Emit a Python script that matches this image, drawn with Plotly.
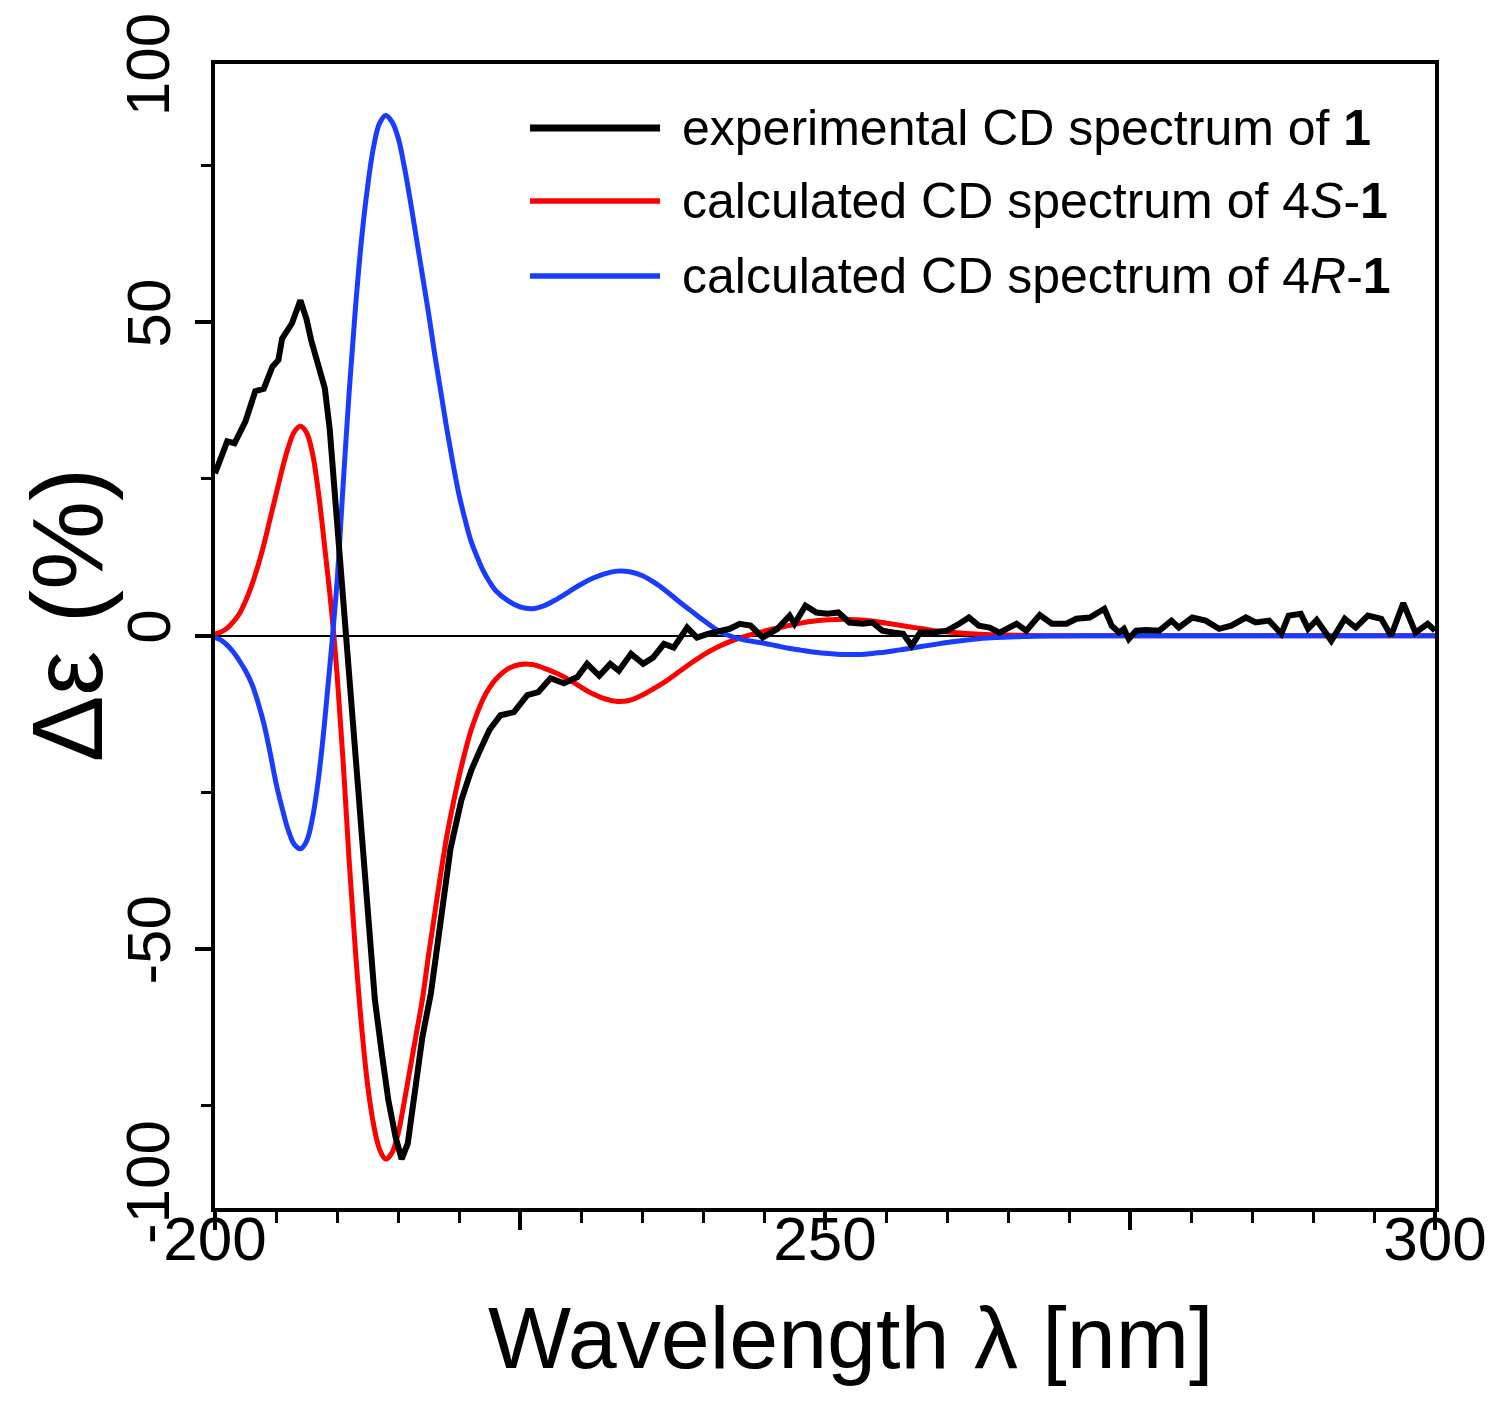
import plotly.graph_objects as go

# experimental CD spectrum of 1 (noisy)
wl_exp = [200, 200.5, 201, 201.6, 202.5, 203.3, 204, 204.7, 205.2, 205.5, 206.3, 207, 207.5,
          207.9, 208.5, 209, 209.4, 209.8, 210.2, 210.8, 211.8, 212.5, 213.1, 213.7, 214.2,
          214.8, 215.3, 215.8, 216.3, 217, 217.7, 218.5, 219.3, 220.2, 221, 221.6, 222.5,
          223.4, 224.5, 225.6, 226.5, 227.5, 228.6, 229.7, 230.5, 231.5, 232.4, 233.1, 234.1,
          235.1, 235.9, 236.8, 237.6, 238.7, 239.5, 240.4, 241.4, 242.2, 243, 243.9, 244.9,
          246.1, 247.1, 247.5, 248.4, 249.3, 250.2, 251.1, 252, 253.1, 253.9, 254.7, 255.6,
          256.4, 257.1, 257.8, 258.8, 260, 261, 261.8, 262.6, 263.5, 264.3, 265.7, 266.5,
          267.6, 268.6, 269.8, 270.6, 271.7, 272.9, 273.5, 274.1, 274.5, 274.9, 275.5, 276.3,
          277.4, 278.4, 279, 280.1, 281.2, 282.3, 283.3, 284.5, 285.3, 286.4, 287.4, 288, 289,
          289.6, 290.3, 291.5, 292.6, 293.5, 294.5, 295.6, 296.4, 297.4, 298.4, 299.4, 300]
cd_exp = [25.9, 28.5, 31, 30.7, 34.2, 39, 39.4, 42.9, 44, 47.4, 49.8, 53.5, 50.5,
          47, 43, 39.5, 33, 23, 13, 0, -25, -43, -58, -67, -74,
          -80, -83.5, -81, -74, -64, -57, -45, -34, -26.2, -21.5, -18.8, -15,
          -12.7, -12.2, -9.5, -9, -6.8, -7.6, -6.6, -4.5, -6.4, -4.5, -5.6, -2.9,
          -4.5, -3.5, -1.3, -1.9, 1.3, -0.3, 0.3, 0.8, 1.1, 1.9, 1.6, -0.3,
          1.1, 3.2, 1.9, 4.8, 3.7, 3.5, 3.7, 2.1, 1.9, 2.1, 0.8, 0.5,
          0.3, -1.6, 0.5, 0.5, 0.8, 1.9, 2.9, 1.6, 1.3, 0.5, 1.9, 0.8,
          3.3, 1.9, 1.9, 2.7, 2.9, 4.3, 1.6, 0.5, 1.1, -0.5, 0.8, 0.9,
          0.8, 2.4, 1.3, 2.9, 2.4, 1.1, 1.6, 2.9, 2.1, 2.4, 0.3, 3.2, 3.5,
          1.1, 2.5, -0.8, 2.7, 1.3, 3.2, 2.7, 0, 5.2, 0.5, 1.9, 0.8]

# wavelength grid of the calculated spectra
wl_calc = [200, 200.5, 201, 201.5, 202, 202.5, 203, 203.5, 204, 204.5, 205, 205.5, 206, 206.5,
           207, 207.5, 208, 208.5, 209, 209.5, 210, 210.5, 211, 211.5, 212, 212.5, 213, 213.5,
           214, 214.5, 215, 215.5, 216, 216.5, 217, 217.5, 218, 218.5, 219, 219.5, 220, 220.5,
           221, 221.5, 222, 222.5, 223, 224, 225, 226, 227, 228, 229, 230, 231, 232, 233, 234,
           235, 236, 237, 238, 239, 240, 241, 242, 243, 244, 245, 246, 247, 248, 249, 250, 251,
           252, 253, 254, 255, 256, 257, 258, 259, 260, 262, 264, 266, 268, 272, 280, 290, 300]

# calculated CD spectrum of 4S-1
cd_4s = [0.3, 0.6, 1.2, 2.2, 3.5, 5.5, 8, 11, 14.5, 18.5, 22.5, 26.5, 30, 32.5,
         33.4, 32.4, 29, 22.5, 14, 5, -6, -20, -36, -50, -62, -71.5, -78, -82,
         -83.5, -82.5, -79.5, -74.5, -69, -63.5, -58, -51, -44.5, -38, -32, -27, -22.5, -18.5,
         -15, -12.3, -10, -8.3, -7, -5.3, -4.6, -4.6, -5.2, -6, -7, -8.2, -9.3, -10.1, -10.5, -10.3,
         -9.5, -8.4, -7.2, -5.8, -4.4, -3.1, -2, -1.1, -0.4, 0.2, 0.7, 1.2, 1.6, 2, 2.3, 2.5, 2.6,
         2.6, 2.5, 2.3, 2, 1.7, 1.4, 1.1, 0.8, 0.6, 0.3, 0.15, 0.05, 0, 0, 0, 0, 0]

# calculated CD spectrum of 4R-1
cd_4r = [-0.3, -0.7, -1.5, -2.6, -4, -5.6, -7.6, -10.5, -14, -18.5, -23.5, -27.5, -31, -33.3,
         -34, -32.8, -29, -22.5, -13.5, -3, 8.5, 24, 39, 52, 63, 71.5, 78, 81.8,
         83, 82, 79.5, 75, 69.5, 63.5, 57.5, 51.5, 45, 39, 33, 27.5, 22.5, 18.5,
         15, 12.5, 10.3, 8.6, 7.2, 5.6, 4.6, 4.3, 4.8, 5.8, 7, 8.2, 9.2, 9.9, 10.3, 10.2,
         9.6, 8.5, 7.1, 5.5, 4, 2.5, 1.1, 0.1, -0.5, -0.9, -1.2, -1.6, -2, -2.3, -2.6, -2.8, -2.95,
         -3, -3, -2.8, -2.6, -2.3, -2, -1.7, -1.4, -1.1, -0.6, -0.3, -0.15, -0.05, 0, 0, 0, 0]

legend_names = ["experimental CD spectrum of <b>1</b>",
                "calculated CD spectrum of 4<i>S</i>-<b>1</b>",
                "calculated CD spectrum of 4<i>R</i>-<b>1</b>"]
legend_colors = ["black", "#ff0000", "#1a3cff"]

FONT = "Liberation Sans, Arial, sans-serif"

fig = go.Figure()
fig.add_trace(go.Scatter(x=wl_calc, y=cd_4s, mode="lines", line=dict(color=legend_colors[1], width=5, shape="spline", smoothing=1)))
fig.add_trace(go.Scatter(x=wl_calc, y=cd_4r, mode="lines", line=dict(color=legend_colors[2], width=5, shape="spline", smoothing=1)))
fig.add_trace(go.Scatter(x=wl_exp, y=cd_exp, mode="lines", line=dict(color=legend_colors[0], width=6)))

# hand made legend (long line samples like the original)
leg_y = [0.9441, 0.8802, 0.8147]
leg_w = [7, 5.5, 5.5]
for i in range(3):
    fig.add_shape(type="line", xref="paper", yref="paper", x0=0.2582, x1=0.3648, y0=leg_y[i], y1=leg_y[i],
                  line=dict(color=legend_colors[i], width=leg_w[i]))
    fig.add_annotation(xref="paper", yref="paper", x=0.3811, y=leg_y[i], text=legend_names[i],
                       showarrow=False, xanchor="left", yanchor="middle",
                       font=dict(size=50, color="black", family=FONT))

# end labels of the y axis
fig.add_annotation(xref="paper", yref="paper", x=-0.0557, y=0.999, text="100", showarrow=False,
                   textangle=-90, xanchor="center", yanchor="middle", font=dict(size=62, color="black", family=FONT))
fig.add_annotation(xref="paper", yref="paper", x=-0.0557, y=0.0227, text="-100", showarrow=False,
                   textangle=-90, xanchor="center", yanchor="middle", font=dict(size=62, color="black", family=FONT))

# axis titles
fig.add_annotation(xref="paper", yref="paper", x=-0.121, y=0.5184, text="Δε (%)", showarrow=False,
                   textangle=-90, xanchor="center", yanchor="middle", font=dict(size=100, color="black", family=FONT))
fig.add_annotation(xref="paper", yref="paper", x=0.5205, y=-0.1136, text="Wavelength λ [nm]", showarrow=False,
                   xanchor="center", yanchor="middle", font=dict(size=88, color="black", family=FONT))

fig.update_layout(
    width=1500, height=1413,
    margin=dict(l=207, r=73, t=56, b=213),
    plot_bgcolor="white", paper_bgcolor="white",
    showlegend=False,
    font=dict(family=FONT, color="black"),
)
fig.update_xaxes(
    range=[200, 300], tickvals=[200, 225, 250, 275, 300], ticktext=["200", "", "250", "", "300"],
    ticks="outside", ticklen=18, tickwidth=4, tickcolor="black", ticklabelstandoff=-44,
    minor=dict(ticks="outside", ticklen=11, tickwidth=3, tickcolor="black", tick0=200, dtick=5),
    showline=True, linewidth=4, linecolor="black", mirror=True,
    showgrid=False, zeroline=False,
    tickfont=dict(size=62, family=FONT),
)
fig.update_yaxes(
    range=[-91.3, 91.2], tickvals=[-50, 0, 50], ticktext=["-50", "0", "50"], tickangle=-90,
    ticks="outside", ticklen=16, tickwidth=4, tickcolor="black",
    minor=dict(ticks="outside", ticklen=10, tickwidth=3, tickcolor="black", tick0=0, dtick=25),
    showline=True, linewidth=4, linecolor="black", mirror=True,
    showgrid=False, zeroline=True, zerolinecolor="black", zerolinewidth=2,
    tickfont=dict(size=62, family=FONT),
)

fig.write_html("out.html")
